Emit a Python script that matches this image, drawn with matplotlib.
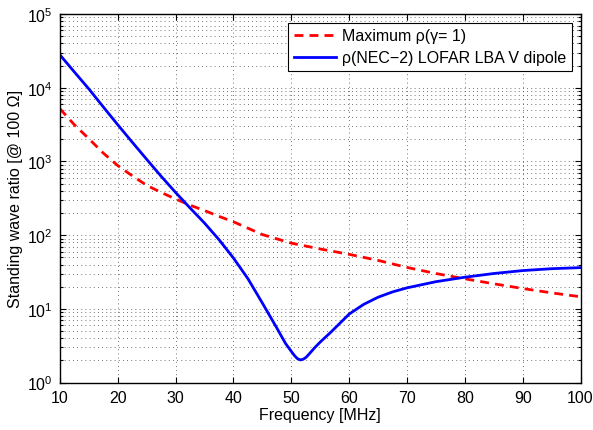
import numpy as np
import matplotlib
matplotlib.use("Agg")
import matplotlib.pyplot as plt
from matplotlib.ticker import LogLocator, NullFormatter, FixedLocator

plt.rcParams["font.family"] = ["Liberation Sans", "DejaVu Sans"]
plt.rcParams["mathtext.fontset"] = "custom"
plt.rcParams["mathtext.rm"] = "Liberation Sans"
plt.rcParams["mathtext.it"] = "Liberation Sans:italic"

# ── data ─────────────────────────────────────────────────────────────────────
freq_max = [10, 12.5, 15, 17.5, 20, 22.5, 25, 27.5, 30, 32.5, 35, 37.5,
            40, 45, 50, 55, 60, 65, 70, 75, 80, 85, 90, 95, 100]
rho_max = [5200, 3150, 2040, 1300, 880, 640, 475, 380, 310, 255, 216, 180,
           152, 102, 78, 65, 55, 45.5, 36.5, 30.2, 25.6, 21.9, 18.9, 16.5, 14.6]

freq_nec = [10, 12.5, 15, 17.5, 20, 22.5, 25, 27.5, 30, 32.5, 35, 37.5,
            40, 42.5, 45, 47.5, 49, 50, 50.6, 51.1, 51.6, 52.1, 52.6, 53.2,
            54, 55, 56.8, 58.5, 60, 62.5, 65, 67.5, 70, 75, 80, 85, 90, 95, 100]
rho_nec = [28000, 16400, 9660, 5500, 3150, 1830, 1070, 630, 380, 234, 146, 87,
           49, 25.7, 12, 5.5, 3.4, 2.65, 2.3, 2.1, 2.03, 2.08, 2.22, 2.5,
           2.95, 3.55, 4.8, 6.5, 8.5, 11.5, 14.4, 17, 19.3, 23.4, 26.9, 30.2,
           33.1, 35.1, 36.3]

x_ticks = [10, 20, 30, 40, 50, 60, 70, 80, 90, 100]

fig = plt.figure(figsize=(5.93, 4.31), dpi=100)
ax = fig.add_axes([0.101, 0.110, 0.878, 0.855])

ax.semilogy(freq_max, rho_max, color="red", lw=2, ls=(0, (3.2, 2.2)),
            label="Maximum ρ(γ= 1)")
ax.semilogy(freq_nec, rho_nec, color="#0000ff", lw=2,
            label="ρ(NEC−2) LOFAR LBA V dipole")

ax.set_xlim(10, 100)
ax.set_ylim(1, 1e5)
ax.xaxis.set_major_locator(FixedLocator(x_ticks))
ax.yaxis.set_major_locator(LogLocator(base=10, numticks=10))
ax.yaxis.set_minor_locator(LogLocator(base=10, subs=np.arange(2, 10), numticks=10))
ax.yaxis.set_minor_formatter(NullFormatter())

grid_kw = dict(color="#444444", lw=0.6, ls=(0, (1, 4)))
ax.grid(True, which="major", axis="both", **grid_kw)
ax.grid(True, which="minor", axis="y", **grid_kw)

ax.tick_params(which="both", direction="in", top=True, right=True,
               labelsize=11.5, width=0.8)
ax.tick_params(which="major", length=4, pad=5)
ax.tick_params(which="minor", length=2.5)
for sp in ax.spines.values():
    sp.set_linewidth(1)

ax.set_xlabel("Frequency [MHz]", fontsize=11.5, labelpad=2)
ax.set_ylabel("Standing wave ratio [@ 100 Ω]", fontsize=11.5, labelpad=3)

leg = ax.legend(loc="upper right", fontsize=11.5, fancybox=False, framealpha=1,
                edgecolor="black", borderaxespad=0.55, handlelength=2.6,
                borderpad=0.35, labelspacing=0.42, handletextpad=0.4)
leg.get_frame().set_linewidth(0.8)

fig.savefig("out.png", dpi=100)
